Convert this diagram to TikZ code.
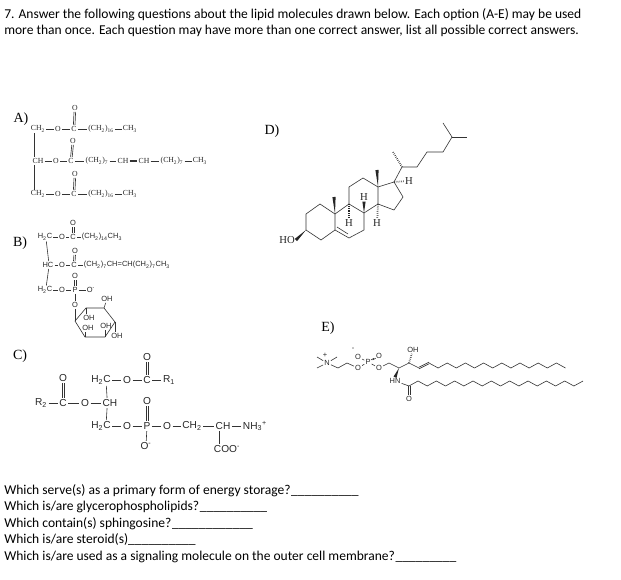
\documentclass[tikz,border=0pt]{standalone}
\usepackage{fontspec}
\setmainfont{Carlito}
\newfontfamily\serifatom{Liberation Serif}
\newfontfamily\sansatom{Liberation Sans}
\usetikzlibrary{calc}
\tikzset{
	question/.style={anchor=west, inner sep=0pt, font=\fontsize{10.15}{12}\selectfont},
	optlabel/.style={inner sep=0pt, font=\serifatom\fontsize{10.5}{12}\selectfont},
	atomA/.style={inner sep=.7pt, text=black!85, font=\serifatom\fontsize{5.8}{6}\selectfont},
	atomB/.style={inner sep=.7pt, text=black!85, font=\sansatom\fontsize{5.6}{6}\selectfont},
	atomC/.style={inner sep=1pt, text=black!85, font=\sansatom\fontsize{7.6}{8}\selectfont},
	atomD/.style={inner sep=.7pt, text=black!85, font=\serifatom\fontsize{8}{9}\selectfont},
	bond/.style={draw=black!80, line width=.45pt},
	hashbond/.style={draw=black!85, line width=1.3pt, dash pattern=on .4pt off 1pt},
}
\newcommand{\wedgebond}[2]{\fill[black!85] (#1) -- ($(#2)!1.2pt!90:(#1)$) -- ($(#2)!1.2pt!-90:(#1)$) -- cycle;}
% double bonds: two strokes, shifted across the bond
\newcommand{\updbl}[2]{
	\draw[bond, transform canvas={xshift=.6pt}] (#1) -- (#2);
	\draw[bond, transform canvas={xshift=-.6pt}] (#1) -- (#2);
}
\newcommand{\sidedbl}[2]{
	\draw[bond, transform canvas={yshift=.6pt}] (#1) -- (#2);
	\draw[bond, transform canvas={yshift=-.6pt}] (#1) -- (#2);
}
\newcommand{\sub}[1]{\textsubscript{#1}}
\begin{document}
\begin{tikzpicture}[x=.75pt, y=-.75pt]
	\useasboundingbox (0,0) rectangle (621,580);

	% Define the question text
	\node[question] (q1) at (4,14.5) {7. Answer the following questions about the lipid molecules drawn below. Each option (A-E) may be used};
	\node[question] (q2) at (4,30.5) {more than once. Each question may have more than one correct answer, list all possible correct answers.};
	\node[question] (w1) at (4,490.5) {Which serve(s) as a primary form of energy storage?\hspace{.5pt}\_\_\_\_\_\_\_\_\_\_};
	\node[question] (w2) at (4,507) {Which is/are glycerophospholipids?\hspace{.5pt}\_\_\_\_\_\_\_\_\_\_};
	\node[question] (w3) at (4,523.5) {Which contain(s) sphingosine?\hspace{.5pt}\_\_\_\_\_\_\_\_\_\_\_\_};
	\node[question] (w4) at (4,539.5) {Which is/are steroid(s)\_\_\_\_\_\_\_\_\_\_};
	\node[question] (w5) at (4,556.5) {Which is/are used as a signaling molecule on the outer cell membrane?\hspace{.5pt}\_\_\_\_\_\_\_\_\_};

	% Define the option labels
	\node[optlabel] (la) at (21,119.5) {A)};
	\node[optlabel] (lb) at (20,243.5) {B)};
	\node[optlabel] (lc) at (20,356.5) {C)};
	\node[optlabel] (ld) at (272,131.5) {D)};
	\node[optlabel] (le) at (328,328.5) {E)};

	% Molecule A
	\node[atomA] (aG1) at (38,129) {CH\sub{2}};
	\node[atomA] (aO1) at (58,129) {O};
	\node[atomA] (aC1) at (74,129) {C};
	\node[atomA] (aD1) at (75,108) {O};
	\node[atomA] (aR1) at (101,129) {(CH\sub{2})\sub{16}};
	\node[atomA] (aM1) at (130,129) {CH\sub{3}};
	\node[atomA] (aG2) at (38,161) {CH};
	\node[atomA] (aO2) at (56,161) {O};
	\node[atomA] (aC2) at (71,161) {C};
	\node[atomA] (aD2) at (73,141) {O};
	\node[atomA] (aR2) at (97,161) {(CH\sub{2})\sub{7}};
	\node[atomA] (aE1) at (123,161) {CH};
	\node[atomA] (aE2) at (144,161) {CH};
	\node[atomA] (aS2) at (172,161) {(CH\sub{2})\sub{7}};
	\node[atomA] (aM2) at (200,161) {CH\sub{3}};
	\node[atomA] (aG3) at (38,194) {CH\sub{2}};
	\node[atomA] (aO3) at (58,194) {O};
	\node[atomA] (aC3) at (74,194) {C};
	\node[atomA] (aD3) at (75,174) {O};
	\node[atomA] (aR3) at (101,194) {(CH\sub{2})\sub{16}};
	\node[atomA] (aM3) at (130,194) {CH\sub{3}};
	\draw[bond] (aG1) -- (aO1) -- (aC1) -- (aR1) -- (aM1);
	\draw[bond] (aG2) -- (aO2) -- (aC2) -- (aR2) -- (aE1);
	\draw[bond] (aE2) -- (aS2) -- (aM2);
	\draw[bond] (aG3) -- (aO3) -- (aC3) -- (aR3) -- (aM3);
	\sidedbl{aE1}{aE2}
	\updbl{aC1}{aD1}
	\updbl{aC2}{aD2}
	\updbl{aC3}{aD3}
	\draw[bond] ([xshift=-2.5pt]aG1.south) -- ([xshift=-2.5pt]aG2.north);
	\draw[bond] ([xshift=-2.5pt]aG2.south) -- ([xshift=-2.5pt]aG3.north);

	% Molecule B
	\node[atomB] (bG1) at (45,237) {H\sub{2}C};
	\node[atomB] (bO1) at (62,237) {O};
	\node[atomB] (bC1) at (73,237) {C};
	\node[atomB] (bD1) at (73,223) {O};
	\node[atomB] (bR1) at (102,237) {(CH\sub{2})\sub{14}CH\sub{3}};
	\node[atomB] (bG2) at (48,265) {HC};
	\node[atomB] (bO2) at (62,265) {O};
	\node[atomB] (bC2) at (74,265) {C};
	\node[atomB] (bD2) at (75,251) {O};
	\node[atomB] (bR2) at (127,265) {(CH\sub{2})\sub{7}CH=CH(CH\sub{2})\sub{7}CH\sub{3}};
	\node[atomB] (bG3) at (45,290) {H\sub{2}C};
	\node[atomB] (bO3) at (62,290) {O};
	\node[atomB] (bP) at (75,290) {P};
	\node[atomB] (bD3) at (75,276) {O};
	\node[atomB] (bM) at (91,290) {O\textsuperscript{-}};
	\node[atomB] (bO4) at (75,305) {O};
	\draw[bond] (bG1) -- (bO1) -- (bC1) -- (bR1);
	\draw[bond] (bG2) -- (bO2) -- (bC2) -- (bR2);
	\draw[bond] (bG3) -- (bO3) -- (bP) -- (bM);
	\draw[bond] (bP) -- (bO4);
	\updbl{bC1}{bD1}
	\updbl{bC2}{bD2}
	\updbl{bP}{bD3}
	\draw[bond] ([xshift=1pt]bG1.south) -- ([xshift=.5pt]bG2.north);
	\draw[bond] ([xshift=.5pt]bG2.south) -- ([xshift=1pt]bG3.north);

	% Inositol ring of B
	\coordinate (r1) at (75,321);
	\coordinate (r2) at (86,308);
	\coordinate (r3) at (104,308);
	\coordinate (r4) at (115,322);
	\coordinate (r5) at (105,337);
	\coordinate (r6) at (85,337);
	\node[atomB] (bH1) at (107,299) {OH};
	\node[atomB] (bH2) at (89,318) {OH};
	\node[atomB] (bH3) at (88,328) {OH};
	\node[atomB] (bH4) at (106,326) {OH};
	\node[atomB] (bH5) at (117,336) {OH};
	\draw[bond] (r1) -- (r2) -- (r3) -- (r4) -- (r5) -- (r6) -- cycle;
	\draw[bond] (bO4) -- (r1);
	\draw[bond] (r3) -- (bH1);
	\draw[bond] (r2) -- (r2 |- bH2.north);
	\draw[bond] (r6) -- (r6 |- bH3.south);
	\draw[bond] (r5) -- (r5 |- bH4.south);
	\draw[bond] (r4) -- (r4 |- bH5.north);

	% Molecule C
	\node[atomC] (cG1) at (101,380) {H\sub{2}C};
	\node[atomC] (cO1) at (127,380) {O};
	\node[atomC] (cC1) at (147,380) {C};
	\node[atomC] (cD1) at (147,357) {O};
	\node[atomC] (cR1) at (169,380) {R\sub{1}};
	\node[atomC] (cR2) at (41,403) {R\sub{2}};
	\node[atomC] (cC2) at (63,403) {C};
	\node[atomC] (cD2) at (63,378) {O};
	\node[atomC] (cO2) at (85,403) {O};
	\node[atomC] (cG2) at (110,403) {CH};
	\node[atomC] (cG3) at (101,426) {H\sub{2}C};
	\node[atomC] (cO3) at (127,426) {O};
	\node[atomC] (cP) at (147,426) {P};
	\node[atomC] (cD3) at (147,401) {O};
	\node[atomC] (cM) at (146,446) {O\textsuperscript{-}};
	\node[atomC] (cO4) at (167,426) {O};
	\node[atomC] (cE) at (192,426) {CH\sub{2}};
	\node[atomC] (cA) at (223,426) {CH};
	\node[atomC] (cN) at (255,426) {NH\sub{3}\textsuperscript{+}};
	\node[atomC] (cX) at (227,449) {COO\textsuperscript{-}};
	\draw[bond] (cG1) -- (cO1) -- (cC1) -- (cR1);
	\draw[bond] (cR2) -- (cC2) -- (cO2) -- (cG2);
	\draw[bond] (cG3) -- (cO3) -- (cP) -- (cO4) -- (cE) -- (cA) -- (cN);
	\draw[bond] (cP) -- (cM);
	\draw[bond] ([xshift=-2.5pt]cA.south) -- ([xshift=-5.5pt]cX.north);
	\updbl{cC1}{cD1}
	\updbl{cC2}{cD2}
	\updbl{cP}{cD3}
	\draw[bond] ([xshift=4pt]cG1.south) -- ([xshift=-2.2pt]cG2.north);
	\draw[bond] ([xshift=-2.2pt]cG2.south) -- ([xshift=4pt]cG3.north);

	% Molecule D
	\coordinate (d1) at (306,230);
	\coordinate (d2) at (306,214);
	\coordinate (d3) at (320,204);
	\coordinate (d4) at (335,214);
	\coordinate (d5) at (335,230);
	\coordinate (d6) at (321,240);
	\coordinate (d7) at (349,238);
	\coordinate (d8) at (364,230);
	\coordinate (d9) at (364,213);
	\coordinate (d10) at (349,204);
	\coordinate (d11) at (349,187);
	\coordinate (d12) at (363,178);
	\coordinate (d13) at (378,187);
	\coordinate (d14) at (378,204);
	\coordinate (d15) at (394,182);
	\coordinate (d16) at (403,197);
	\coordinate (d17) at (394,210);
	\coordinate (d18) at (402,167);
	\coordinate (d19) at (417,167);
	\coordinate (d20) at (427,152);
	\coordinate (d21) at (443,152);
	\coordinate (d22) at (452,137);
	\coordinate (d23) at (443,123);
	\coordinate (d24) at (467,137);
	\coordinate (m1) at (334,197);
	\coordinate (m2) at (377,170);
	\coordinate (m3) at (393,152);
	\node[atomD] (dHO) at (287,240) {HO};
	\node[atomD] (dH1) at (409,181) {H};
	\node[atomD] (dH2) at (349,223) {H};
	\node[atomD] (dH3) at (364,197) {H};
	\node[atomD] (dH4) at (377,223) {H};
	\draw[bond] (d1) -- (d2) -- (d3) -- (d4) -- (d5) -- (d6) -- (d1);
	\draw[bond] (d7) -- (d8) -- (d9) -- (d10) -- (d4);
	\draw[bond] (d10) -- (d11) -- (d12) -- (d13) -- (d14) -- (d9);
	\draw[bond] (d13) -- (d15) -- (d16) -- (d17) -- (d14);
	\draw[bond] (d15) -- (d18) -- (d19) -- (d20) -- (d21) -- (d22) -- (d23);
	\draw[bond] (d22) -- (d24);
	\draw[bond] (d5) -- (d7);
	\coordinate (d5b) at (337,227);
	\coordinate (d7b) at (348,234);
	\draw[bond] (d5b) -- (d7b);
	\wedgebond{d4}{m1}
	\wedgebond{d13}{m2}
	\wedgebond{d9}{dH3.south}
	\wedgebond{d1}{dHO.east}
	\draw[hashbond] (d18) -- (m3);
	\draw[hashbond] (d15) -- (dH1);
	\draw[hashbond] (d10) -- (dH2);
	\draw[hashbond] (d14) -- (dH4);

	% Molecule E, head group
	\node[atomB] (eN) at (327,363) {N};
	\node[atomB] (ePl) at (325,355) {+};
	\coordinate (e1) at (317,357);
	\coordinate (e2) at (317,368);
	\coordinate (e3) at (337,357);
	\coordinate (e4) at (338,368);
	\coordinate (e5) at (347,363);
	\node[atomB] (eO1) at (358,368) {O};
	\node[atomB] (eP) at (368,362) {P};
	\node[atomB] (eO2) at (358,357) {O};
	\node[atomB] (eMi) at (353,349) {-};
	\node[atomB] (eO3) at (379,356) {O};
	\node[atomB] (eO4) at (379,368) {O};
	\coordinate (e6) at (389,363);
	\coordinate (e7) at (399,368);
	\node[atomB] (eHN) at (395,381) {HN};
	\coordinate (e8) at (409,363);
	\node[atomB] (eOH) at (413,350) {OH};
	\coordinate (e9) at (419,368);
	\coordinate (u0) at (429,363);
	\coordinate (eCo) at (409,386);
	\node[atomB] (eO5) at (409,399) {O};
	\draw[bond] (e1) -- (eN);
	\draw[bond] (e2) -- (eN);
	\draw[bond] (e3) -- (eN);
	\draw[bond] (eN) -- (e4) -- (e5) -- (eO1) -- (eP) -- (eO4) -- (e6) -- (e7) -- (e8) -- (e9);
	\draw[bond] (eP) -- (eO2);
	\draw[bond] (eHN) -- (eCo);
	\updbl{eP}{eO3}
	\sidedbl{e9}{u0}
	\updbl{eCo}{eO5}
	\wedgebond{e7}{eHN.north}
	\draw[hashbond] (e8) -- (eOH);

	% The two tails of E
	\foreach \i in {0,...,15} {
		\pgfmathsetmacro{\tail}{isodd(\i) ? 368 : 363}
		\coordinate (u\i) at (429+9.1*\i,\tail);
	}
	\foreach \i [remember=\i as \j (initially 0)] in {1,...,15} {
		\draw[bond] (u\j) -- (u\i);
	}
	\foreach \i in {0,...,18} {
		\pgfmathsetmacro{\tail}{isodd(\i) ? 386 : 381}
		\coordinate (v\i) at (418+9.17*\i,\tail);
	}
	\draw[bond] (eCo) -- (v0);
	\foreach \i [remember=\i as \j (initially 0)] in {1,...,18} {
		\draw[bond] (v\j) -- (v\i);
	}
\end{tikzpicture}
\end{document}
